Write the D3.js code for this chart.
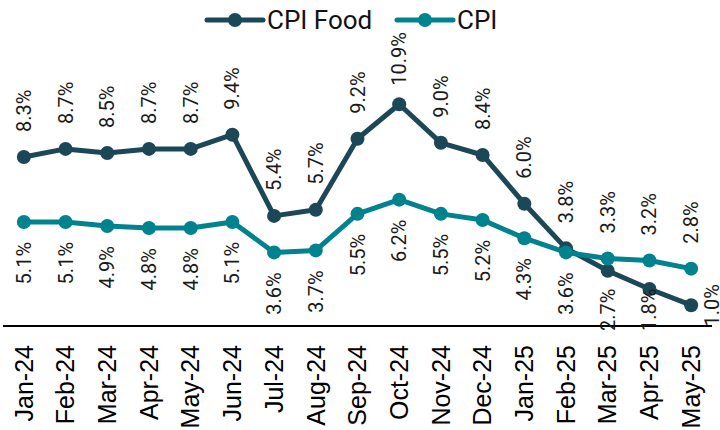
<!DOCTYPE html>
<html>
<head>
<meta charset="utf-8">
<script src="https://cdn.jsdelivr.net/npm/d3@7"></script>
<style>
  body { margin: 0; background: #fff; }
  svg { display: block; }
</style>
</head>
<body>
<svg id="chart"></svg>
<script>
// chart values
const months = ["Jan-24", "Feb-24", "Mar-24", "Apr-24", "May-24", "Jun-24", "Jul-24", "Aug-24",
  "Sep-24", "Oct-24", "Nov-24", "Dec-24", "Jan-25", "Feb-25", "Mar-25", "Apr-25", "May-25"];
const cpiFood = [8.3, 8.7, 8.5, 8.7, 8.7, 9.4, 5.4, 5.7, 9.2, 10.9, 9.0, 8.4, 6.0, 3.8, 2.7, 1.8, 1.0];
const cpi = [5.1, 5.1, 4.9, 4.8, 4.8, 5.1, 3.6, 3.7, 5.5, 6.2, 5.5, 5.2, 4.3, 3.6, 3.3, 3.2, 2.8];

const width = 720, height = 430;
const foodColor = "#1b4756";
const cpiColor = "#00838e";

const svg = d3.select("#chart")
    .attr("width", width)
    .attr("height", height);

const x = d3.scaleBand()
    .domain(months)
    .range([3, 712]);

const y = d3.scaleLinear()
    .domain([0, 12])
    .range([325.5, 325.5 - 12 * 20.3]);

const cx = m => x(m) + x.bandwidth() / 2;

// axis line and month labels
const xAxis = svg.append("g")
    .attr("transform", `translate(0,${y(0)})`)
    .call(d3.axisBottom(x).tickSize(0).tickFormat(""));
xAxis.select(".domain")
    .attr("d", `M${x.range()[0]},0.5H${x.range()[1]}`)
    .attr("stroke", "#000")
    .attr("stroke-width", 2);

svg.append("g")
    .selectAll("text")
    .data(months)
    .enter()
    .append("text")
    .attr("transform", d => `translate(${cx(d)},345) rotate(-90)`)
    .attr("text-anchor", "end")
    .attr("dy", "0.35em")
    .attr("font-family", "Liberation Sans, Arial, sans-serif")
    .attr("font-size", 25)
    .attr("fill", "#000")
    .text(d => d);

const series = [
    { name: "CPI Food", values: cpiFood, other: cpi, color: foodColor },
    { name: "CPI", values: cpi, other: cpiFood, color: cpiColor }
];

const line = d3.line()
    .x(d => cx(d.m))
    .y(d => y(d.v));

series.forEach(s => {
    const pts = months.map((m, i) => ({ m, v: s.values[i] }));
    svg.append("path")
        .datum(pts)
        .attr("fill", "none")
        .attr("stroke", s.color)
        .attr("stroke-width", 5)
        .attr("stroke-linejoin", "round")
        .attr("d", line);
    svg.append("g")
        .selectAll("circle")
        .data(pts)
        .enter()
        .append("circle")
        .attr("cx", d => cx(d.m))
        .attr("cy", d => y(d.v))
        .attr("r", 7)
        .attr("fill", s.color);
});

// data labels: higher series above, lower below, kept inside the plot
const labelTop = 32, labelBottom = 331;
const labels = svg.append("g");
series.forEach(s => {
    s.values.forEach((v, i) => {
        const px = cx(months[i]), py = y(v);
        const above = v >= s.other[i];
        const t = labels.append("text")
            .attr("font-family", "Roboto, sans-serif")
            .attr("font-size", 20)
            .attr("fill", "#1a1a1a")
            .attr("dy", "0.35em")
            .text(v.toFixed(1) + "%");
        const len = t.node().getComputedTextLength();
        let bx = px, by;
        if (above) {
            by = py - 25;
            if (by - len < labelTop) by = labelTop + len;
        } else if (i === months.length - 1) {
            // no room below the last point, label sits at its right
            bx = px + 21;
            by = py + len / 2;
        } else {
            by = py + 20 + len;
            if (by > labelBottom) by = labelBottom;
        }
        t.attr("transform", `translate(${bx},${by}) rotate(-90)`);
    });
});

// legend
const legendItems = [
    { name: "CPI Food", color: foodColor, x0: 207 },
    { name: "CPI", color: cpiColor, x0: 397 }
];
const legend = svg.append("g").attr("transform", "translate(0,20)");
legendItems.forEach(d => {
    legend.append("line")
        .attr("x1", d.x0).attr("x2", d.x0 + 56)
        .attr("stroke", d.color)
        .attr("stroke-width", 5)
        .attr("stroke-linecap", "round");
    legend.append("circle")
        .attr("cx", d.x0 + 28)
        .attr("r", 7)
        .attr("fill", d.color);
    legend.append("text")
        .attr("x", d.x0 + 60)
        .attr("dy", "0.36em")
        .attr("font-family", "Roboto, sans-serif")
        .attr("font-size", 26)
        .attr("fill", "#111")
        .text(d.name);
});
</script>
</body>
</html>
